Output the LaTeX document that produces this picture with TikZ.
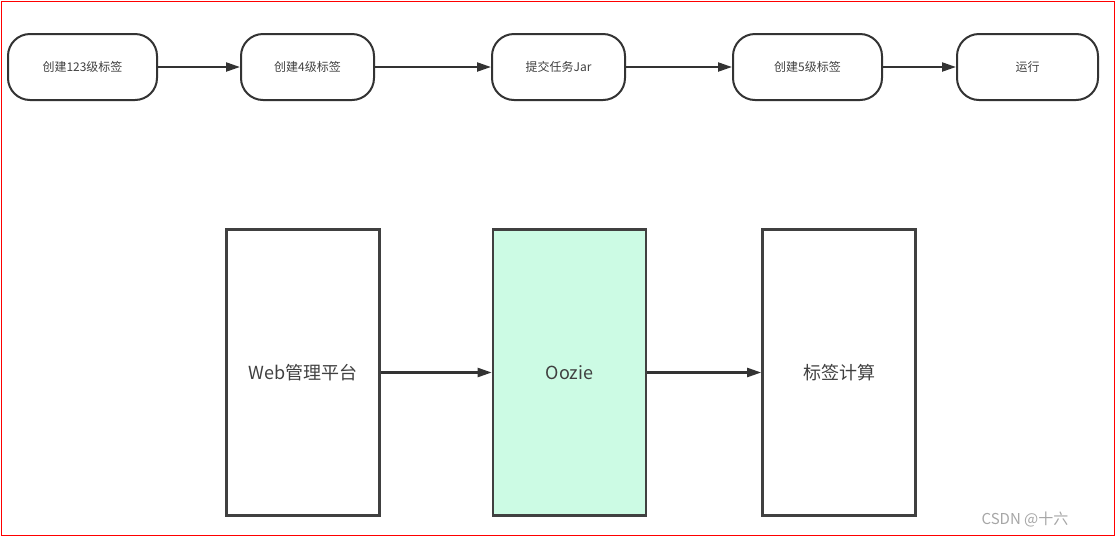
\documentclass[tikz,border=0pt]{standalone}
\usepackage{fontspec}
\setmainfont{Noto Sans CJK SC}
\usetikzlibrary{positioning,arrows.meta}
\definecolor{ooziegreen}{RGB}{204,251,228}
\begin{document}
\begin{tikzpicture}[x=1pt,y=-1pt,
    stage/.style={draw=black!80,line width=2pt,rounded corners=22pt,minimum height=66pt,font=\fontsize{12}{14}\selectfont,text=black!75},
    unit/.style={draw=black!75,line width=2.6pt,minimum width=153pt,minimum height=286pt,font=\fontsize{18}{21}\selectfont,text=black!75},
    flow/.style={-{Triangle[length=14pt,width=9pt]},line width=2.2pt,draw=black!80}]
    \useasboundingbox (0,0) rectangle (1116,539);
    \draw[red,line width=1.6pt] (1.5,1.5) rectangle (1114.5,535.5);
    % top row
    \node[stage,minimum width=149pt] (s1) at (82.5,67) {创建123级标签};
    \node[stage,minimum width=133pt] (s2) at (307.5,67) {创建4级标签};
    \node[stage,minimum width=133pt] (s3) at (558.5,67) {提交任务Jar};
    \node[stage,minimum width=149pt] (s4) at (807.5,67) {创建5级标签};
    \node[stage,minimum width=141pt] (s5) at (1027.5,67) {运行};
    \foreach \a/\b in {s1/s2,s2/s3,s3/s4,s4/s5}
      \draw[flow] (\a) -- (\b);
    % bottom row
    \node[unit] (web) at (303,372.5) {Web管理平台};
    \node[unit,fill=ooziegreen] (oozie) at (569.5,372.5) {Oozie};
    \node[unit] (calc) at (839,372.5) {标签计算};
    \draw[flow] (web) -- (oozie);
    \draw[flow] (oozie) -- (calc);
    \node[text=black!35,font=\fontsize{15}{17}\selectfont] (mark) at (1025,519) {CSDN @十六};
\end{tikzpicture}
\end{document}
